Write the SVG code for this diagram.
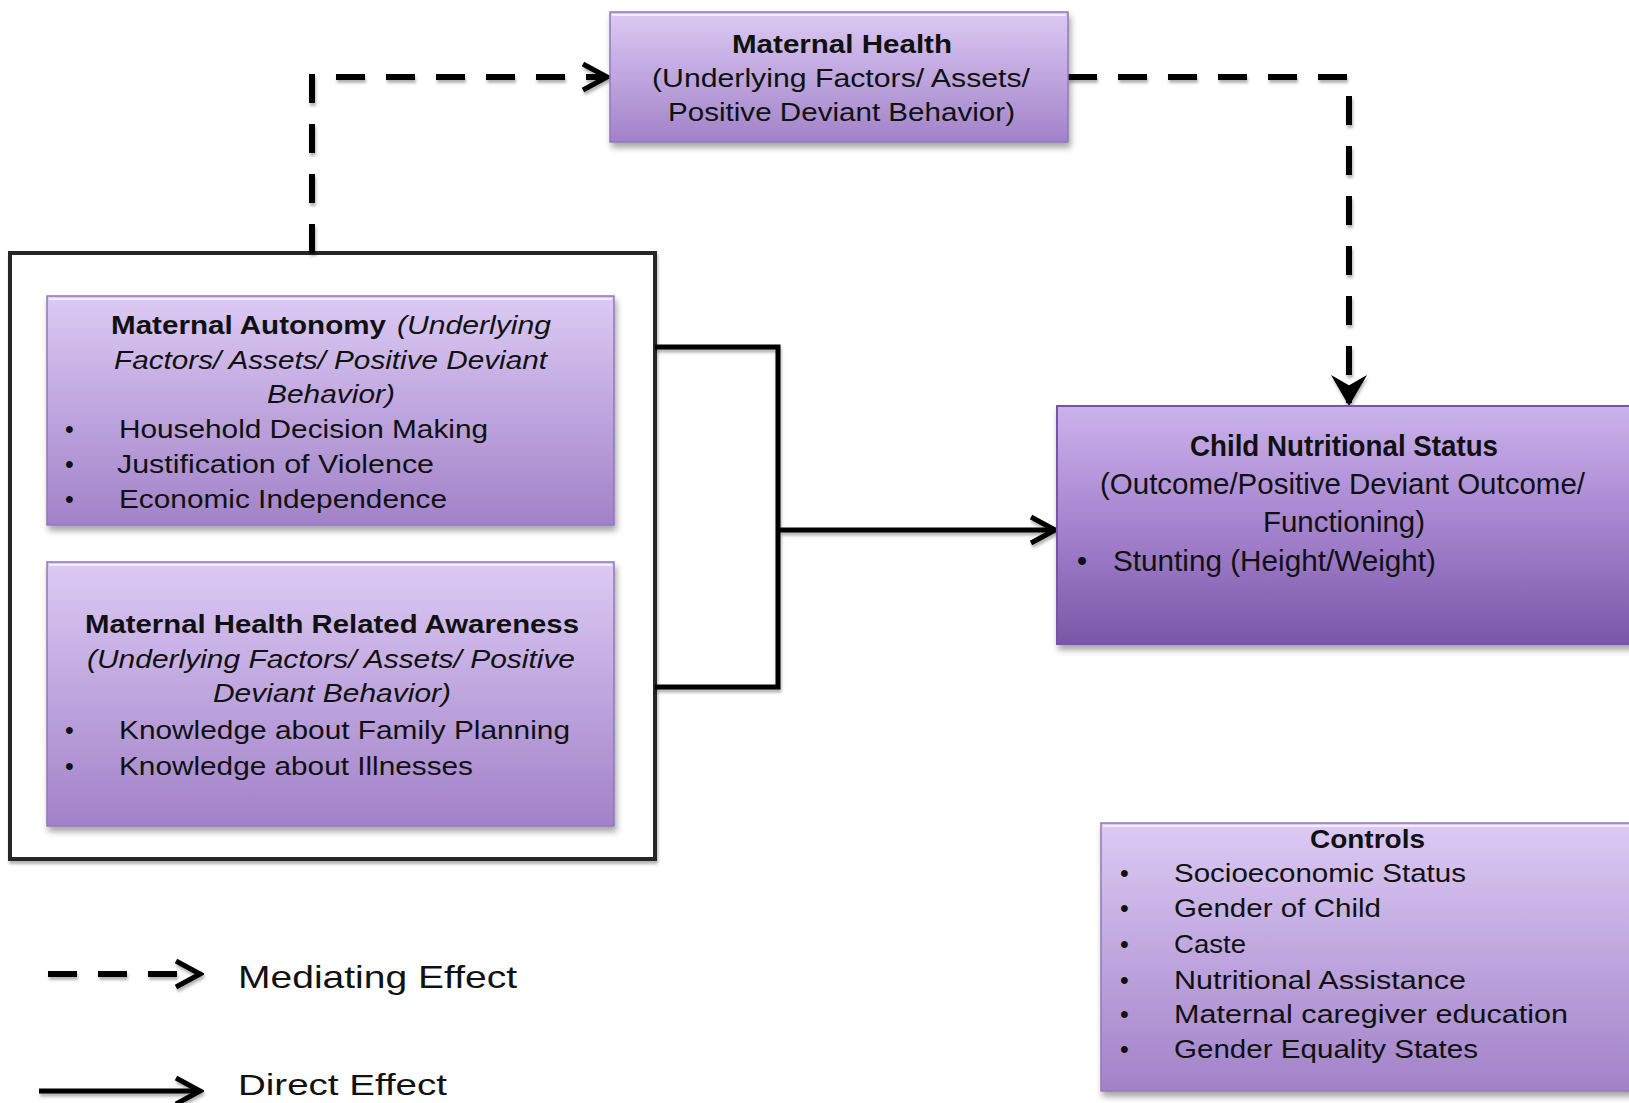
<svg xmlns="http://www.w3.org/2000/svg" width="1629" height="1103" viewBox="0 0 1629 1103">
<defs>
<linearGradient id="gLight" x1="0" y1="0" x2="0" y2="1">
<stop offset="0" stop-color="#dccaf4"/>
<stop offset="1" stop-color="#a182c8"/>
</linearGradient>
<linearGradient id="gDark" x1="0" y1="0" x2="0" y2="1">
<stop offset="0" stop-color="#cbb2ec"/>
<stop offset="0.55" stop-color="#a17fcb"/>
<stop offset="1" stop-color="#7b57a8"/>
</linearGradient>
<filter id="sh" x="-5%" y="-5%" width="115%" height="125%">
<feDropShadow dx="2" dy="5" stdDeviation="3" flood-color="#000" flood-opacity="0.35"/>
</filter>
<filter id="lsh" x="-5%" y="-5%" width="115%" height="125%">
<feDropShadow dx="1" dy="3" stdDeviation="1.5" flood-color="#000" flood-opacity="0.3"/>
</filter>
<marker id="chev" markerUnits="userSpaceOnUse" markerWidth="32" markerHeight="32" viewBox="0 0 32 32" refX="28" refY="16" orient="auto">
<path d="M4,3 L28,16 L4,29" fill="none" stroke="#000" stroke-width="5" stroke-dasharray="none" stroke-linejoin="miter"/>
</marker>
<marker id="chevF" markerUnits="userSpaceOnUse" markerWidth="36" markerHeight="36" viewBox="0 0 36 36" refX="30" refY="18" orient="auto">
<path d="M6,4 L30,18 L6,32 L14,18 Z" fill="#000" stroke="#000" stroke-width="3" stroke-dasharray="none" stroke-linejoin="miter"/>
</marker>
</defs>
<style>
.box{fill:url(#gLight);stroke:#9376bd;stroke-width:1.5;filter:url(#sh)}
.dbox{fill:url(#gDark);stroke:#7656a4;stroke-width:2;filter:url(#sh)}
.hl{stroke:#f4ecfc;stroke-width:2;fill:none}
text{font-family:"Liberation Sans",Arial,sans-serif;fill:#111;}
.t{font-size:25px}
.b{font-weight:bold}
.i{font-style:italic}
.c{font-size:29px}
.lg{font-size:32px}
.dash{fill:none;stroke:#000;stroke-width:6;stroke-dasharray:29 21}
.solid{fill:none;stroke:#000;stroke-width:5}
</style>

<rect id="outer" x="10" y="253" width="645" height="606" fill="#fff" stroke="#262626" stroke-width="4" filter="url(#lsh)"/>

<g id="connectors" filter="url(#lsh)">
<path class="dash" d="M312,253 V77 H607" marker-end="url(#chev)"/>
<path class="dash" d="M1068,77 H1349 V403" marker-end="url(#chevF)"/>
<path class="solid" d="M655,347 H778 V687 H655"/>
<path class="solid" d="M778,530 H1055" marker-end="url(#chev)"/>
<path class="dash" d="M48,974 H200" marker-end="url(#chev)"/>
<path class="solid" d="M39,1091 H200" marker-end="url(#chev)"/>
</g>

<g id="maternal-health">
<rect class="box" x="610" y="12" width="458" height="130"/>
<line class="hl" x1="612" y1="15" x2="1066" y2="15"/>
<text class="t b" x="732" y="53" textLength="220" lengthAdjust="spacingAndGlyphs">Maternal Health</text>
<text class="t" x="652" y="87" textLength="378" lengthAdjust="spacingAndGlyphs">(Underlying Factors/ Assets/</text>
<text class="t" x="668" y="121" textLength="347" lengthAdjust="spacingAndGlyphs">Positive Deviant Behavior)</text>
</g>

<g id="maternal-autonomy">
<rect class="box" x="47" y="296" width="567" height="229"/>
<line class="hl" x1="49" y1="299" x2="612" y2="299"/>
<text class="t b" x="111" y="334" textLength="275" lengthAdjust="spacingAndGlyphs">Maternal Autonomy</text>
<text class="t i" x="397" y="334" textLength="154" lengthAdjust="spacingAndGlyphs">(Underlying</text>
<text class="t i" x="114" y="369" textLength="433" lengthAdjust="spacingAndGlyphs">Factors/ Assets/ Positive Deviant</text>
<text class="t i" x="267" y="403" textLength="128" lengthAdjust="spacingAndGlyphs">Behavior)</text>
<text class="t" x="65" y="438">•</text>
<text class="t" x="119" y="438" textLength="369" lengthAdjust="spacingAndGlyphs">Household Decision Making</text>
<text class="t" x="65" y="473">•</text>
<text class="t" x="117" y="473" textLength="317" lengthAdjust="spacingAndGlyphs">Justification of Violence</text>
<text class="t" x="65" y="508">•</text>
<text class="t" x="119" y="508" textLength="328" lengthAdjust="spacingAndGlyphs">Economic Independence</text>
</g>

<g id="maternal-health-awareness">
<rect class="box" x="47" y="562" width="567" height="264"/>
<line class="hl" x1="49" y1="565" x2="612" y2="565"/>
<text class="t b" x="85" y="633" textLength="494" lengthAdjust="spacingAndGlyphs">Maternal Health Related Awareness</text>
<text class="t i" x="87" y="668" textLength="488" lengthAdjust="spacingAndGlyphs">(Underlying Factors/ Assets/ Positive</text>
<text class="t i" x="213" y="702" textLength="238" lengthAdjust="spacingAndGlyphs">Deviant Behavior)</text>
<text class="t" x="65" y="739">•</text>
<text class="t" x="119" y="739" textLength="451" lengthAdjust="spacingAndGlyphs">Knowledge about Family Planning</text>
<text class="t" x="65" y="775">•</text>
<text class="t" x="119" y="775" textLength="354" lengthAdjust="spacingAndGlyphs">Knowledge about Illnesses</text>
</g>

<g id="child-nutritional-status">
<rect class="dbox" x="1057" y="406" width="590" height="238"/>
<text class="c b" x="1190" y="456" textLength="308" lengthAdjust="spacingAndGlyphs">Child Nutritional Status</text>
<text class="c" x="1100" y="494" textLength="485" lengthAdjust="spacingAndGlyphs">(Outcome/Positive Deviant Outcome/</text>
<text class="c" x="1263" y="532" textLength="162" lengthAdjust="spacingAndGlyphs">Functioning)</text>
<text class="c" x="1077" y="571">•</text>
<text class="c" x="1113" y="571" textLength="323" lengthAdjust="spacingAndGlyphs">Stunting (Height/Weight)</text>
</g>

<g id="controls">
<rect class="box" x="1101" y="823" width="545" height="268"/>
<line class="hl" x1="1103" y1="826" x2="1629" y2="826"/>
<text class="t b" x="1310" y="848" textLength="115" lengthAdjust="spacingAndGlyphs">Controls</text>
<text class="t" x="1120" y="882">•</text>
<text class="t" x="1174" y="882" textLength="292" lengthAdjust="spacingAndGlyphs">Socioeconomic Status</text>
<text class="t" x="1120" y="917">•</text>
<text class="t" x="1174" y="917" textLength="207" lengthAdjust="spacingAndGlyphs">Gender of Child</text>
<text class="t" x="1120" y="953">•</text>
<text class="t" x="1174" y="953" textLength="72" lengthAdjust="spacingAndGlyphs">Caste</text>
<text class="t" x="1120" y="989">•</text>
<text class="t" x="1174" y="989" textLength="292" lengthAdjust="spacingAndGlyphs">Nutritional Assistance</text>
<text class="t" x="1120" y="1023">•</text>
<text class="t" x="1174" y="1023" textLength="394" lengthAdjust="spacingAndGlyphs">Maternal caregiver education</text>
<text class="t" x="1120" y="1058">•</text>
<text class="t" x="1174" y="1058" textLength="304" lengthAdjust="spacingAndGlyphs">Gender Equality States</text>
</g>

<g id="legend">
<text class="lg" x="238" y="988" textLength="279" lengthAdjust="spacingAndGlyphs">Mediating Effect</text>
<text x="238" y="1095" font-size="30" textLength="209" lengthAdjust="spacingAndGlyphs">Direct Effect</text>
</g>
</svg>
